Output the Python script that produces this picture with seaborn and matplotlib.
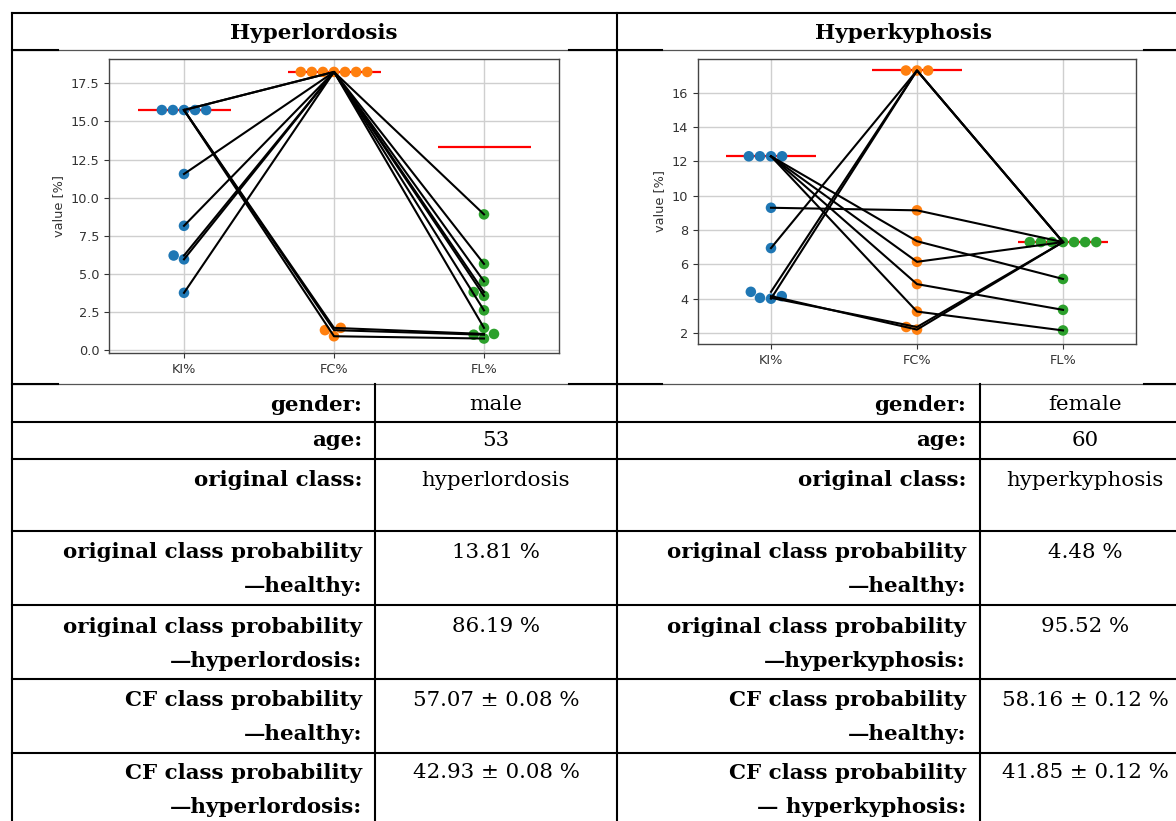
import matplotlib
matplotlib.use("Agg")
import matplotlib.pyplot as plt
from matplotlib.ticker import MultipleLocator, FormatStrFormatter
import seaborn as sns
import pandas as pd
import numpy as np

# ---------------- data ----------------
features = ["KI%", "FC%", "FL%"]

# Hyperlordosis case: original values and counterfactuals
lord_orig = [15.75, 18.25, 13.3]
lord_ki = [15.75, 15.75, 15.75, 15.75, 15.75, 11.55, 8.15, 6.2, 5.95, 3.75]
lord_fc = [1.3, 1.45, 0.9, 18.25, 18.25, 18.25, 18.25, 18.25, 18.25, 18.25]
lord_fl = [1.0, 1.05, 0.75, 8.9, 5.65, 4.5, 3.8, 3.55, 2.6, 1.45]

# Hyperkyphosis case
kyph_orig = [12.3, 17.3, 7.3]
kyph_ki = [12.3, 12.3, 12.3, 12.3, 9.3, 6.95, 4.4, 4.0, 4.05, 4.15]
kyph_fc = [7.35, 6.15, 4.85, 3.25, 9.15, 17.3, 17.3, 17.3, 2.35, 2.2]
kyph_fl = [5.15, 7.3, 3.35, 2.15, 7.3, 7.3, 7.3, 7.3, 7.3, 7.3]

headers = ["Hyperlordosis", "Hyperkyphosis"]
labels_left = ["gender:", "age:", "original class:",
               "original class probability\n\u2014healthy:",
               "original class probability\n\u2014hyperlordosis:",
               "CF class probability\n\u2014healthy:",
               "CF class probability\n\u2014hyperlordosis:"]
labels_right = ["gender:", "age:", "original class:",
                "original class probability\n\u2014healthy:",
                "original class probability\n\u2014hyperkyphosis:",
                "CF class probability\n\u2014healthy:",
                "CF class probability\n\u2014 hyperkyphosis:"]
values_left = ["male", "53", "hyperlordosis", "13.81 %", "86.19 %",
               "57.07 \u00b1 0.08 %", "42.93 \u00b1 0.08 %"]
values_right = ["female", "60", "hyperkyphosis", "4.48 %", "95.52 %",
                "58.16 \u00b1 0.12 %", "41.85 \u00b1 0.12 %"]

palette = ["#1f77b4", "#ff7f0e", "#2ca02c"]

# ---------------- figure ----------------
W, H = 1176, 821
fig = plt.figure(figsize=(W / 100, H / 100), dpi=100)
fig.patch.set_facecolor("white")

# table overlay in pixel coordinates
tab = fig.add_axes([0, 0, 1, 1], zorder=0)
tab.set_xlim(0, W)
tab.set_ylim(H, 0)
tab.axis("off")

LW = 1.5
x_left, x_mid, x_in_l, x_in_r, x_right = 12, 617, 375, 980, 1200
tab.plot([x_left, x_right], [13, 13], color="black", lw=LW)
for y in [50, 384]:
    tab.plot([x_left, x_right], [y, y], color="#555555", lw=0.9)
    for a, b in [(x_left, 58), (569, 662), (1144, x_right)]:
        tab.plot([a, b], [y, y], color="black", lw=LW)
for y in [422, 459, 531, 605, 679, 753]:
    tab.plot([x_left, x_right], [y, y], color="black", lw=LW)
tab.plot([x_left, x_left], [13, H], color="black", lw=LW)
tab.plot([x_mid, x_mid], [13, H], color="black", lw=LW)
tab.plot([x_in_l, x_in_l], [384, H], color="black", lw=LW)
tab.plot([x_in_r, x_in_r], [384, H], color="black", lw=LW)

SERIF = "DejaVu Serif"
FS = 15.4
tab.text(314, 33, headers[0], ha="center", va="center", family=SERIF,
         weight="bold", fontsize=FS)
tab.text(903, 33, headers[1], ha="center", va="center", family=SERIF,
         weight="bold", fontsize=FS)

row_y = [405, 440, 480, 552, 627, 700, 773]
LINE = 34
for labels, values, xr, xc in [(labels_left, values_left, 362, 496),
                                (labels_right, values_right, 966, 1085)]:
    for lab, val, y in zip(labels, values, row_y):
        for k, part in enumerate(lab.split("\n")):
            tab.text(xr, y + k * LINE, part, ha="right", va="center",
                     family=SERIF, weight="bold", fontsize=FS)
        tab.text(xc, y, val, ha="center", va="center", family=SERIF,
                 fontsize=FS)

# ---------------- charts ----------------
plt.rcParams["font.family"] = ["DejaVu Sans"]
TICK_FS = 9.3


def draw(ax, ki, fc, fl, orig, step, fmt, ylim=None):
    n = len(ki)
    df = pd.DataFrame({"feature": np.repeat(features, n),
                       "value": np.concatenate([ki, fc, fl])})
    ax.set_facecolor("white")
    for i, v in enumerate(orig):
        ax.hlines(v, i - 0.31, i + 0.31, color="red", lw=1.6, zorder=1)
    for a, b, c in zip(ki, fc, fl):
        ax.plot([0, 1, 2], [a, b, c], color="black", lw=1.5, zorder=3)
    if ylim is not None:
        ax.set_ylim(*ylim)
    sns.swarmplot(data=df, x="feature", y="value", hue="feature",
                  palette=palette, size=7.6, linewidth=0, ax=ax,
                  legend=False, zorder=2)
    ax.set_xlim(-0.5, 2.5)
    ax.yaxis.set_major_locator(MultipleLocator(step))
    ax.yaxis.set_major_formatter(FormatStrFormatter(fmt))
    ax.grid(True, color="#cfcfcf", lw=1.0, zorder=0)
    ax.set_axisbelow(True)
    ax.set_xlabel("")
    ax.set_ylabel("value [%]", fontsize=TICK_FS, color="#333333")
    ax.tick_params(labelsize=TICK_FS, colors="#333333", length=3.5)
    for s in ax.spines.values():
        s.set_color("#444444")
        s.set_linewidth(1.0)


ax1 = fig.add_axes([109 / W, 1 - 353 / H, 450 / W, 294 / H], zorder=2)
draw(ax1, lord_ki, lord_fc, lord_fl, lord_orig, 2.5, "%.1f", (-0.2, 19.1))

ax2 = fig.add_axes([698 / W, 1 - 344 / H, 438 / W, 285 / H], zorder=2)
draw(ax2, kyph_ki, kyph_fc, kyph_fl, kyph_orig, 2, "%d", (1.36, 17.97))

fig.savefig("out.png", dpi=100, facecolor="white")
